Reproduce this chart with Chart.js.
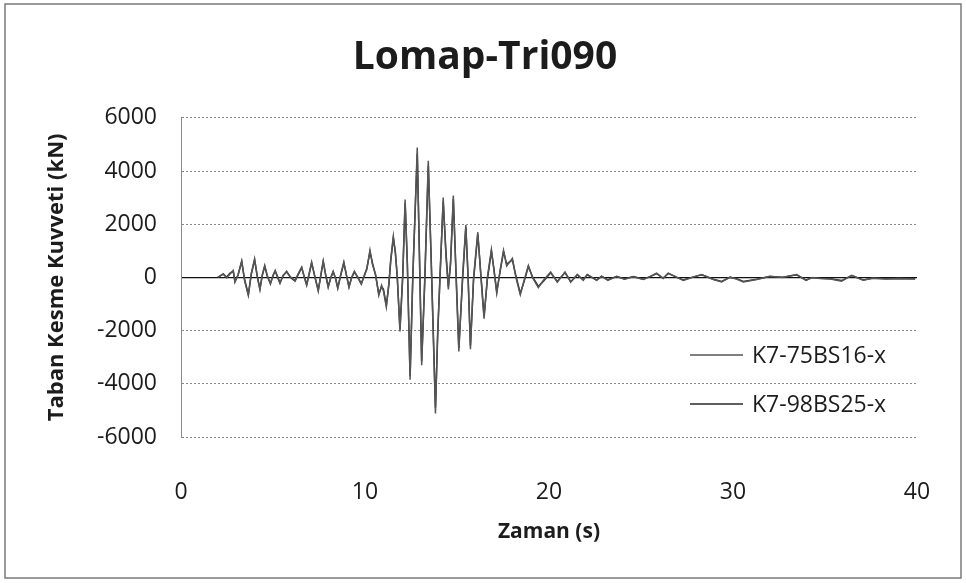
<!DOCTYPE html>
<html>
<head>
<meta charset="utf-8">
<title>Lomap-Tri090</title>
<script src="https://cdn.jsdelivr.net/npm/chart.js@4.4.0/dist/chart.umd.min.js"></script>
<style>
    html, body { margin: 0; padding: 0; background: #fff; }
    #wrap { width: 966px; height: 583px; }
</style>
</head>
<body>
<div id="wrap"><canvas id="shearChart" width="966" height="583"></canvas></div>
<script>
// Data (time in s, base shear in kN)
const times = [
    2.0, 2.3, 2.48, 2.65, 2.84, 2.93, 3.1, 3.3, 3.45, 3.66,
    3.82, 4.0, 4.15, 4.29, 4.42, 4.55, 4.7, 4.86, 5.0, 5.12,
    5.25, 5.38, 5.55, 5.74, 5.95, 6.2, 6.38, 6.56, 6.7, 6.83,
    6.95, 7.1, 7.28, 7.46, 7.6, 7.73, 7.87, 8.0, 8.14, 8.27,
    8.4, 8.52, 8.68, 8.85, 9.0, 9.13, 9.27, 9.42, 9.6, 9.8,
    9.98, 10.1, 10.27, 10.4, 10.58, 10.75, 10.9, 11.0, 11.16, 11.3,
    11.4, 11.54, 11.65, 11.75, 11.9, 12.05, 12.18, 12.3, 12.45, 12.6,
    12.84, 12.95, 13.08, 13.25, 13.44, 13.6, 13.83, 13.95, 14.08, 14.25,
    14.4, 14.53, 14.65, 14.8, 14.95, 15.1, 15.3, 15.48, 15.6, 15.73,
    15.9, 16.13, 16.3, 16.47, 16.65, 16.87, 17.0, 17.16, 17.35, 17.53,
    17.7, 18.01, 18.2, 18.44, 18.65, 18.88, 19.1, 19.42, 19.7, 20.09,
    20.45, 20.87, 21.18, 21.54, 21.86, 22.08, 22.59, 22.86, 23.2, 23.68,
    24.1, 24.58, 25.13, 25.5, 25.85, 26.2, 26.48, 26.94, 27.3, 27.8,
    28.3, 28.93, 29.38, 29.84, 30.2, 30.56, 31.29, 32.0, 32.7, 33.46,
    33.97, 34.3, 34.73, 35.3, 35.9, 36.45, 37.08, 37.6, 38.3, 39.0,
    39.9
];

const shear75 = [
    0, 140, -20, 120, 260, -180, 100, 620, -100, -680,
    150, 700, 0, -470, 100, 450, 50, -250, 80, 260,
    0, -230, 80, 200, 20, -110, 150, 390, 0, -300,
    100, 580, 0, -520, 100, 620, 50, -380, 0, 230,
    -50, -420, 100, 580, 50, -380, 0, 230, 0, -260,
    120, 300, 1030, 500, 100, -680, -300, -500, -1120, -200,
    700, 1550, 900, 100, -2030, 0, 2930, 600, -3850, 0,
    4880, 1000, -3300, 0, 4380, 500, -5120, -2000, 0, 3000,
    800, -450, 600, 3080, 0, -2780, 0, 1970, 0, -2700,
    0, 1700, 0, -1550, 0, 1050, 300, -600, 300, 1020,
    430, 720, 0, -650, -100, 450, 0, -380, -110, 200,
    -180, 200, -180, 110, -110, 110, -110, 40, -110, 40,
    -70, 20, -80, 40, 160, -40, 160, 10, -110, 0,
    110, -80, -170, 10, -60, -170, -80, 40, 0, 110,
    -110, 0, -40, -60, -140, 80, -110, -20, -60, -40,
    -60
];

const shear98 = [
    0, 120, 10, 150, 230, -150, 80, 600, -60, -640,
    120, 660, 30, -420, 80, 420, 20, -220, 60, 240,
    20, -200, 60, 230, 0, -140, 120, 360, 30, -260,
    80, 540, 20, -480, 70, 590, 80, -340, -20, 210,
    -30, -390, 80, 540, 70, -350, -20, 200, 20, -230,
    90, 340, 960, 560, 60, -620, -350, -440, -1050, -260,
    620, 1480, 960, 40, -1940, 80, 2800, 520, -3700, 120,
    4650, 1200, -3150, -150, 4200, 650, -4900, -2200, 150, 2850,
    950, -350, 500, 2950, 150, -2650, -120, 1880, 100, -2560,
    -100, 1620, 90, -1460, -80, 980, 360, -540, 250, 960,
    500, 660, 60, -600, -150, 410, 30, -340, -140, 170,
    -150, 180, -160, 90, -90, 100, -100, 50, -90, 30,
    -60, 30, -70, 30, 140, -30, 150, 0, -100, 10,
    100, -70, -150, 0, -50, -150, -70, 30, 10, 100,
    -100, -10, -30, -50, -120, 70, -100, -30, -50, -40,
    -50
];

const seriesNames = ['K7-75BS16-x', 'K7-98BS25-x'];
const seriesColors = ['#555555', '#2a2a2a'];
const xTicks = [0, 10, 20, 30, 40];
const yTicks = [-6000, -4000, -2000, 0, 2000, 4000, 6000];

const fontFamily = '"Open Sans", "DejaVu Sans", sans-serif';
const textColor = '#1c1c1c';

function toPoints(values) {
    return times.map((t, i) => ({ x: t, y: values[i] }));
}

// Outer frame around the whole figure
const framePlugin = {
    id: 'frame',
    beforeDraw(chart) {
        const ctx = chart.ctx;
        ctx.save();
        ctx.fillStyle = '#fff';
        ctx.fillRect(0, 0, chart.width, chart.height);
        ctx.strokeStyle = '#7a7a7a';
        ctx.lineWidth = 1.5;
        ctx.strokeRect(5, 4, chart.width - 10, chart.height - 9);
        ctx.restore();
    }
};

// Legend inside the plot, lower right (like the Excel one)
const insideLegend = {
    id: 'insideLegend',
    afterDraw(chart) {
        const { ctx, chartArea } = chart;
        const rows = [chartArea.bottom - 82, chartArea.bottom - 33];
        ctx.save();
        ctx.font = '23px ' + fontFamily;
        ctx.textBaseline = 'middle';
        ctx.textAlign = 'left';
        chart.data.datasets.forEach((ds, i) => {
            const y = rows[i];
            ctx.strokeStyle = ds.borderColor;
            ctx.lineWidth = 1.5;
            ctx.beginPath();
            ctx.moveTo(chartArea.right - 227, y);
            ctx.lineTo(chartArea.right - 174, y);
            ctx.stroke();
            ctx.fillStyle = textColor;
            ctx.fillText(ds.label, chartArea.right - 165, y + 1);
        });
        ctx.restore();
    }
};

const ctx = document.getElementById('shearChart');
new Chart(ctx, {
    type: 'line',
    data: {
        datasets: [{
            label: seriesNames[0],
            data: toPoints(shear75),
            borderColor: seriesColors[0],
            borderWidth: 1.5,
            pointRadius: 0,
            tension: 0
        }, {
            label: seriesNames[1],
            data: toPoints(shear98),
            borderColor: seriesColors[1],
            borderWidth: 1.5,
            pointRadius: 0,
            tension: 0
        }]
    },
    options: {
        responsive: false,
        animation: false,
        layout: {
            // wide left padding keeps the title centred where Excel put it
            padding: { top: 5, left: 53, right: 49, bottom: 8 }
        },
        plugins: {
            legend: { display: false },
            tooltip: { enabled: false },
            title: {
                display: true,
                text: 'Lomap-Tri090',
                color: textColor,
                font: { family: fontFamily, size: 39, weight: 'bold', lineHeight: 1.2 },
                padding: { top: 29, bottom: 37 }
            }
        },
        scales: {
            x: {
                type: 'linear',
                min: 0,
                max: 40,
                afterBuildTicks: s => { s.ticks = xTicks.map(v => ({ value: v })); },
                afterFit: s => { s.height = 138; },
                grid: { display: false },
                border: { display: false },
                ticks: {
                    color: textColor,
                    padding: 34,
                    maxRotation: 0,
                    font: { family: fontFamily, size: 23 },
                    callback: v => String(v)
                },
                title: {
                    display: true,
                    text: 'Zaman (s)',
                    color: textColor,
                    font: { family: fontFamily, size: 21, weight: 'bold', lineHeight: 1.2 },
                    padding: { top: 0, bottom: 30 }
                }
            },
            y: {
                min: -6000,
                max: 6000,
                afterBuildTicks: s => { s.ticks = yTicks.map(v => ({ value: v })); },
                afterFit: s => { s.width = 128; },
                grid: {
                    drawTicks: false,
                    color: c => (c.tick && c.tick.value === 0) ? '#111' : '#8a8a8a',
                    lineWidth: c => (c.tick && c.tick.value === 0) ? 1.3 : 1
                },
                border: {
                    display: true,
                    color: '#8a8a8a',
                    width: 1,
                    dash: c => (c.tick && c.tick.value === 0) ? [] : [2, 2]
                },
                ticks: {
                    color: textColor,
                    padding: 24,
                    font: { family: fontFamily, size: 23 },
                    callback: v => String(v)
                },
                title: {
                    display: true,
                    text: 'Taban Kesme Kuvveti (kN)',
                    color: textColor,
                    font: { family: fontFamily, size: 22, weight: 'bold', lineHeight: 1.2 },
                    // negative offset pulls the title back out into the left margin
                    padding: { top: -9, bottom: 0 }
                }
            }
        }
    },
    plugins: [framePlugin, insideLegend]
});
</script>
</body>
</html>
